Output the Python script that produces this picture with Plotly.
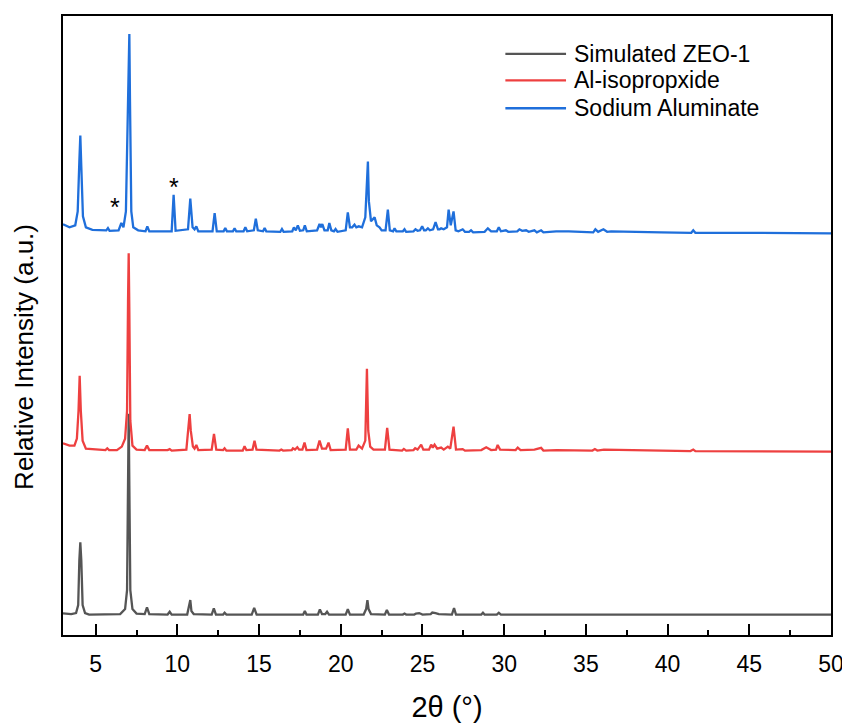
import plotly.graph_objects as go

# ---------------- data (2theta in degrees, intensity in a.u.) ----------------
series_names = ["Simulated ZEO-1", "Al-isopropxide", "Sodium Aluminate"]
x_ticks = [5, 10, 15, 20, 25, 30, 35, 40, 45, 50]

sim_profile = [
    (3.0, 21.7), (3.5, 21), (3.8, 22), (3.93, 30), (4.0, 75), (4.06, 93), (4.12, 75),
    (4.2, 30), (4.35, 22), (4.6, 20.5), (6.5, 21), (6.8, 26), (6.92, 45), (6.98, 150),
    (7.02, 222), (7.06, 150), (7.12, 45), (7.25, 26), (7.5, 21.5), (8.0, 21),
    (8.14, 27.7), (8.28, 21), (9.4, 20.5), (9.53, 23.3), (9.65, 20.5), (10.6, 20.5),
    (10.72, 30), (10.79, 35), (10.86, 24), (11.0, 21), (12.1, 20.5), (12.23, 26.7),
    (12.36, 20.5), (12.8, 20.5), (12.89, 22.3), (13.0, 20.5), (14.55, 20.5), (14.7, 27.3),
    (14.85, 20.5), (17.7, 20.5), (17.8, 24), (17.9, 20.5), (18.6, 20.5), (18.72, 25.7),
    (18.85, 21), (19.05, 21), (19.16, 23.3), (19.28, 20.5), (20.3, 20.5), (20.43, 26),
    (20.56, 20.5), (21.4, 20.5), (21.55, 26), (21.63, 35), (21.7, 26), (21.85, 21),
    (22.7, 20.5), (22.82, 25), (22.95, 20.5), (23.8, 20.5), (23.9, 21.5), (24.0, 20.5),
    (24.5, 20.5), (24.6, 21.5), (24.8, 22), (25.0, 20.5), (25.5, 21), (25.6, 22.5),
    (25.8, 22), (26.0, 21), (26.8, 20.5), (26.93, 27), (27.05, 20.5), (28.6, 20.5),
    (28.7, 22.3), (28.8, 20.5), (29.55, 20.5), (29.67, 22.3), (29.8, 20.5), (31.0, 20.5),
    (32.5, 20.6), (35.5, 20.8), (36.0, 20.5), (50.0, 20.5),
]

alip_profile = [
    (3.0, 27.3), (3.4, 25), (3.7, 25), (3.85, 32), (3.95, 60), (4.02, 95), (4.09, 60),
    (4.2, 30), (4.4, 22), (5.0, 21), (5.6, 20.5), (5.71, 22.3), (5.82, 20.5), (6.3, 20.5),
    (6.6, 24), (6.8, 32), (6.92, 60), (6.98, 170), (7.02, 218), (7.06, 160), (7.12, 50),
    (7.25, 25), (7.5, 21), (8.0, 20.5), (8.14, 25), (8.28, 20.5), (9.4, 20.5), (9.53, 21.5),
    (9.65, 20), (10.55, 21), (10.68, 40), (10.75, 56.7), (10.82, 40), (10.95, 24),
    (11.05, 22), (11.16, 25.7), (11.28, 20.5), (12.1, 21), (12.24, 36.7), (12.38, 21),
    (12.8, 20.5), (12.89, 22.3), (13.0, 20), (14.0, 20), (14.11, 24.3), (14.22, 20.5),
    (14.6, 21), (14.72, 30), (14.84, 21), (16.25, 20), (16.36, 21), (16.47, 20),
    (17.0, 20.5), (17.07, 22.3), (17.2, 21), (17.34, 23.3), (17.45, 21), (17.65, 21),
    (17.78, 28), (17.9, 20.5), (18.55, 21), (18.7, 30), (18.85, 22), (19.1, 22),
    (19.25, 28), (19.38, 20.5), (20.3, 21), (20.43, 42.3), (20.56, 21), (20.95, 21),
    (21.09, 25), (21.3, 22), (21.5, 30), (21.6, 102), (21.68, 40), (21.8, 24), (22.0, 21),
    (22.7, 21), (22.84, 42.7), (22.98, 21), (23.75, 20), (23.86, 21.7), (24.0, 20),
    (24.45, 20.5), (24.55, 22.3), (24.7, 21), (24.92, 26), (25.05, 21), (25.4, 21),
    (25.53, 26), (25.63, 23), (25.74, 26), (25.9, 22), (26.14, 23), (26.3, 21),
    (26.55, 24), (26.7, 22), (26.9, 44), (27.05, 21), (27.46, 21.5), (27.6, 20),
    (28.6, 20.5), (28.9, 23.3), (29.2, 20.5), (29.5, 21), (29.6, 25.7), (29.75, 21),
    (30.7, 20.5), (30.83, 23), (31.0, 20.5), (31.85, 21), (32.26, 22.7), (32.4, 20),
    (33.2, 20.5), (35.4, 20), (35.55, 21.5), (35.7, 20), (36.1, 21), (41.4, 19.5),
    (41.57, 21), (41.7, 19.5), (50.0, 19),
]

naal_profile = [
    (3.0, 27), (3.4, 24), (3.75, 26), (3.9, 40), (4.0, 90), (4.06, 116), (4.12, 85),
    (4.22, 35), (4.4, 24), (4.8, 21.5), (5.65, 21), (5.75, 23.3), (5.85, 20.5),
    (6.4, 21), (6.57, 28.3), (6.7, 24), (6.85, 40), (6.95, 110), (7.02, 190),
    (7.06, 218), (7.1, 150), (7.18, 40), (7.3, 24), (7.6, 21), (8.05, 20), (8.16, 25),
    (8.28, 20), (9.65, 20), (9.77, 56.7), (9.89, 20.5), (10.65, 22), (10.79, 52.7),
    (10.93, 24), (11.05, 22), (11.16, 25), (11.28, 20), (12.15, 20), (12.28, 38.3),
    (12.41, 20), (12.83, 20), (12.93, 23.3), (13.03, 20), (13.4, 20), (13.5, 23),
    (13.6, 20), (14.05, 20), (14.16, 24), (14.27, 20), (14.68, 21), (14.8, 32.7),
    (14.92, 21), (15.24, 20), (15.34, 23.3), (15.44, 20), (16.3, 19.5), (16.4, 22.3),
    (16.5, 19.5), (17.03, 20), (17.13, 24), (17.25, 21), (17.37, 26), (17.5, 20.5),
    (17.7, 21), (17.8, 26), (17.92, 20), (18.55, 21), (18.7, 27.3), (18.79, 24),
    (18.87, 27.3), (19.0, 21), (19.2, 21), (19.3, 28.3), (19.42, 21), (19.58, 20),
    (19.68, 22.3), (19.8, 19.5), (20.3, 21), (20.43, 39), (20.56, 24), (20.7, 24),
    (20.84, 26.7), (20.95, 24), (21.1, 25), (21.3, 24), (21.5, 34), (21.6, 80),
    (21.66, 90), (21.72, 50), (21.85, 30), (22.07, 34), (22.2, 26), (22.37, 24),
    (22.5, 21), (22.74, 21), (22.88, 41.7), (23.0, 21), (23.2, 20), (23.29, 23),
    (23.4, 20), (23.8, 20), (23.9, 22), (24.0, 19.5), (24.45, 20), (24.57, 22),
    (24.7, 20.5), (24.85, 21), (24.98, 25), (25.1, 21), (25.2, 21), (25.33, 23),
    (25.45, 21), (25.65, 22), (25.8, 29.3), (25.95, 22), (26.05, 22), (26.14, 23),
    (26.3, 22), (26.5, 24), (26.6, 41.7), (26.73, 26), (26.9, 40), (27.03, 21),
    (27.2, 20), (27.46, 22), (27.6, 19.5), (27.85, 19.5), (27.97, 21), (28.1, 19),
    (28.8, 19.5), (29.0, 23), (29.2, 20), (29.55, 20), (29.67, 24), (29.8, 20),
    (30.1, 21), (30.25, 19.5), (30.8, 20), (30.93, 22), (31.1, 20.5), (31.34, 21),
    (31.5, 19.5), (31.85, 21), (32.0, 19), (32.26, 21), (32.4, 19), (33.18, 20),
    (33.95, 20), (35.45, 19), (35.58, 22), (35.75, 19.5), (36.07, 22), (36.3, 19.5),
    (36.54, 20), (39.6, 19), (41.45, 18.5), (41.57, 21), (41.7, 18.5), (44.4, 18.5),
    (50.0, 18),
]

# impurity peaks marked with asterisks (2theta, intensity above trace baseline)
star_2theta = [6.2, 9.79]
star_height = [44, 64]

# ---------------- figure ----------------
profiles = [sim_profile, alip_profile, naal_profile]
colors = ["#555555", "#EE4040", "#1F6FDB"]
stack_offsets = [0, 165, 385]  # vertical stacking of the patterns
FONT = "Arial, Liberation Sans"

fig = go.Figure()
for name, prof, col, off in zip(series_names, profiles, colors, stack_offsets):
    xs = [p[0] for p in prof]
    ys = [p[1] + off for p in prof]
    fig.add_trace(go.Scatter(x=xs, y=ys, mode="lines", name=name, showlegend=False,
                             line=dict(color=col, width=2.3)))

for sx, sh in zip(star_2theta, star_height):
    fig.add_annotation(x=sx, y=sh + stack_offsets[2], text="*", showarrow=False,
                       font=dict(size=25, color="black", family=FONT),
                       xanchor="center", yanchor="middle")

# legend (line samples + labels) in the upper right corner
legend_rows_y = [0.9388, 0.8961, 0.8510]
for name, col, ly in zip(series_names, colors, legend_rows_y):
    fig.add_shape(type="line", xref="paper", yref="paper", x0=0.576, x1=0.655,
                  y0=ly, y1=ly, line=dict(color=col, width=2.3))
    fig.add_annotation(xref="paper", yref="paper", x=0.663, y=ly, text=name,
                       showarrow=False, xanchor="left", yanchor="middle",
                       font=dict(size=23, color="black", family=FONT))

fig.add_annotation(xref="paper", yref="paper", x=-0.051, y=0.449,
                   text="Relative Intensity (a.u.)", textangle=-90, showarrow=False,
                   font=dict(size=26, color="black", family=FONT),
                   xanchor="center", yanchor="middle")

fig.update_layout(
    width=842, height=719,
    margin=dict(l=55, r=18, t=6, b=92),
    paper_bgcolor="white", plot_bgcolor="white",
    font=dict(family=FONT, color="black"),
    showlegend=False,
    xaxis=dict(range=[3, 50], tickvals=x_ticks, ticks="inside", ticklen=11, tickwidth=2,
               tickcolor="black", showline=True, linewidth=2, linecolor="black",
               mirror=True, showgrid=False, zeroline=False,
               tickfont=dict(size=23, color="black"), ticklabelstandoff=7,
               minor=dict(tickvals=[7.5 + 5 * i for i in range(9)], ticks="inside",
                          ticklen=5, tickwidth=2, tickcolor="black"),
               title=dict(text="2θ (°)", font=dict(size=29, color="black"), standoff=21)),
    yaxis=dict(range=[0, 621], showticklabels=False, ticks="", showline=True,
               linewidth=2, linecolor="black", mirror=True, showgrid=False,
               zeroline=False),
)

fig.write_html("out.html")
